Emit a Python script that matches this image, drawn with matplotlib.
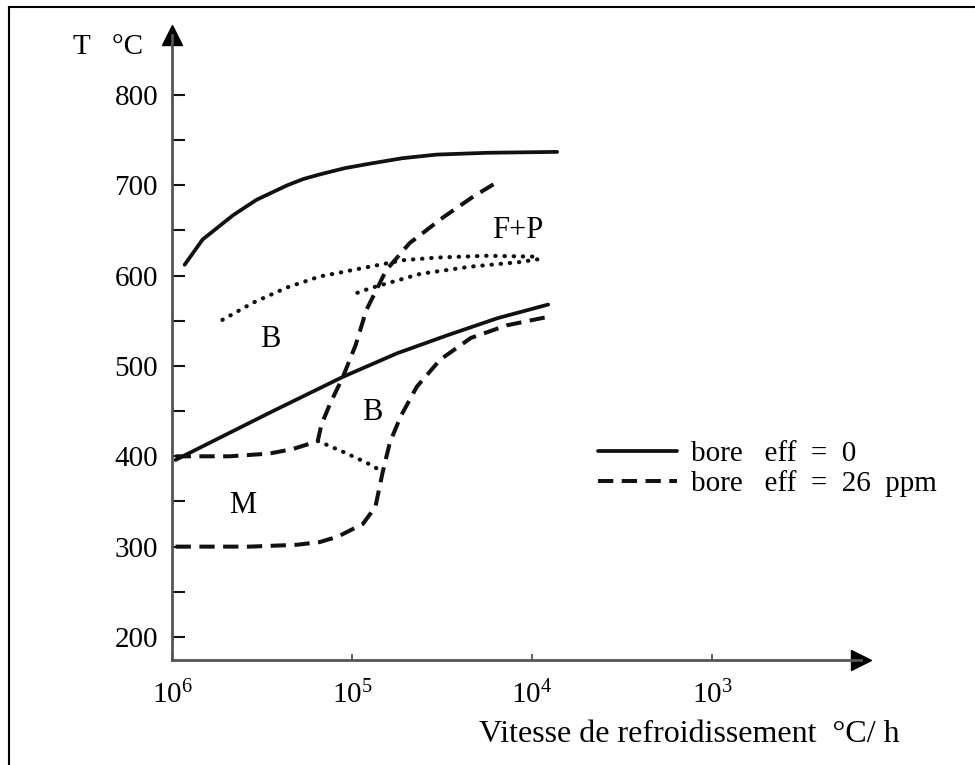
import matplotlib

matplotlib.use("Agg")
import matplotlib.pyplot as plt  # noqa: E402
import numpy as np  # noqa: E402
from matplotlib.lines import Line2D  # noqa: E402
from matplotlib.ticker import NullLocator  # noqa: E402

plt.rcParams["font.family"] = ["Liberation Serif", "DejaVu Serif"]
plt.rcParams["mathtext.fontset"] = "custom"
plt.rcParams["mathtext.rm"] = "Liberation Serif"

INK = "#111111"
AXIS = "#555555"
FS = 21

# x values are log10 of the cooling rate (°C/h), y values are temperatures (°C)
top_solid_lr = [5.93, 5.83, 5.66, 5.53, 5.36, 5.27, 5.18, 5.04, 4.90, 4.72, 4.53, 4.25, 3.86]
top_solid_t = [612, 640, 667, 684, 700, 707, 712, 719, 724, 730, 734, 736, 737]

low_solid_lr = [5.98, 5.46, 5.05, 4.75, 4.47, 4.19, 3.91]
low_solid_t = [396, 448, 488, 514, 534, 553, 568]

dot_upper_lr = [5.72, 5.55, 5.36, 5.18, 4.90, 4.72, 4.53, 4.25, 3.97]
dot_upper_t = [551, 570, 587, 599, 610, 617, 620, 622, 621]

dot_lower_lr = [4.97, 4.90, 4.62, 4.34, 4.07, 3.97]
dot_lower_t = [581, 586, 602, 610, 615, 618]

dash_bs_lr = [5.98, 5.68, 5.46, 5.33, 5.25, 5.19, 5.17, 5.12, 5.05, 4.98, 4.92, 4.81, 4.68, 4.49, 4.33, 4.19]
dash_bs_t = [400, 400, 403, 408, 413, 417, 435, 459, 488, 523, 562, 606, 636, 665, 687, 704]

dot_link_lr = [5.19, 5.05, 4.92, 4.83]
dot_link_t = [417, 405, 393, 383]

dash_ms_lr = [5.98, 5.57, 5.31, 5.18, 5.08, 4.94, 4.87, 4.83, 4.79, 4.73, 4.64, 4.51, 4.34, 4.14, 3.92]
dash_ms_t = [300, 300, 302, 305, 311, 325, 344, 382, 415, 444, 477, 507, 531, 545, 554]

x_ticks = [1e6, 1e5, 1e4, 1e3]
x_tick_labels = [r"$\mathregular{10^{6}}$", r"$\mathregular{10^{5}}$",
                 r"$\mathregular{10^{4}}$", r"$\mathregular{10^{3}}$"]
y_major = list(range(200, 801, 100))
y_minor = list(range(250, 751, 100))

regions = [("B", 5.456, 529), ("B", 4.889, 449), ("M", 5.606, 346), ("F+P", 4.078, 650)]

legend_labels = ["bore   eff  =  0", "bore   eff  =  26  ppm"]


def rate(lr):
    return np.power(10.0, lr)


fig = plt.figure(figsize=(9.75, 7.65), dpi=100)
ax = fig.add_axes([172 / 975, 105 / 765, 689 / 975, 625 / 765])
ax.set_xscale("log")
ax.set_xlim(1e6, 10 ** 2.172)
ax.set_ylim(174.5, 866.4)

solid = dict(color=INK, lw=2.7, solid_capstyle="round")
dashed = dict(color=INK, lw=2.9, linestyle=(0, (3.8, 2.1)), dash_capstyle="butt")
dotted = dict(color=INK, lw=3.0, linestyle=(0, (0.1, 2.1)), dash_capstyle="round")

ax.plot(rate(top_solid_lr), top_solid_t, **solid)
ax.plot(rate(low_solid_lr), low_solid_t, **solid)
ax.plot(rate(dot_upper_lr), dot_upper_t, **dotted)
ax.plot(rate(dot_lower_lr), dot_lower_t, **dotted)
ax.plot(rate(dot_link_lr), dot_link_t, **dotted)
ax.plot(rate(dash_bs_lr), dash_bs_t, **dashed)
ax.plot(rate(dash_ms_lr), dash_ms_t, **dashed)

for txt, lr, t in regions:
    ax.text(rate(lr), t, txt, ha="center", va="center", fontsize=FS + 1)

# axes with arrow heads
for side in ("top", "right"):
    ax.spines[side].set_visible(False)
for side in ("left", "bottom"):
    ax.spines[side].set_color(AXIS)
    ax.spines[side].set_linewidth(2)
ax.plot(1, 0, ">", transform=ax.transAxes, clip_on=False, ms=14, color="black")
ax.plot(0, 1, "^", transform=ax.transAxes, clip_on=False, ms=14, color="black")

ax.set_xticks(x_ticks)
ax.set_xticklabels(x_tick_labels)
ax.xaxis.set_minor_locator(NullLocator())
ax.set_yticks(y_major)
ax.set_yticks(y_minor, minor=True)
ax.tick_params(axis="y", which="both", direction="in", length=9, width=1.5,
               color=INK, pad=10, labelsize=FS)
ax.tick_params(axis="x", which="both", direction="in", length=4, width=1.3,
               color=AXIS, pad=15, labelsize=FS)

fig.text(108 / 975, 1 - 47 / 765, "T   °C", ha="center", va="center", fontsize=FS)
fig.text(689 / 975, 1 - 734 / 765, "Vitesse de refroidissement  °C/ h",
         ha="center", va="center", fontsize=FS + 2)

handles = [Line2D([], [], **solid), Line2D([], [], **dashed)]
fig.legend(handles, legend_labels, loc="upper left",
           bbox_to_anchor=(598 / 975, 1 - 441 / 765), frameon=False,
           fontsize=FS, handlelength=2.7, handletextpad=0.48,
           labelspacing=0.1, borderpad=0, borderaxespad=0)

# page frame (left and top edges only)
fig.add_artist(Line2D([9 / 975, 9 / 975], [0, 1 - 7 / 765], transform=fig.transFigure,
                      color="black", lw=1.5))
fig.add_artist(Line2D([9 / 975, 1], [1 - 7 / 765, 1 - 7 / 765], transform=fig.transFigure,
                      color="black", lw=1.5))

fig.savefig("out.png", dpi=100)
